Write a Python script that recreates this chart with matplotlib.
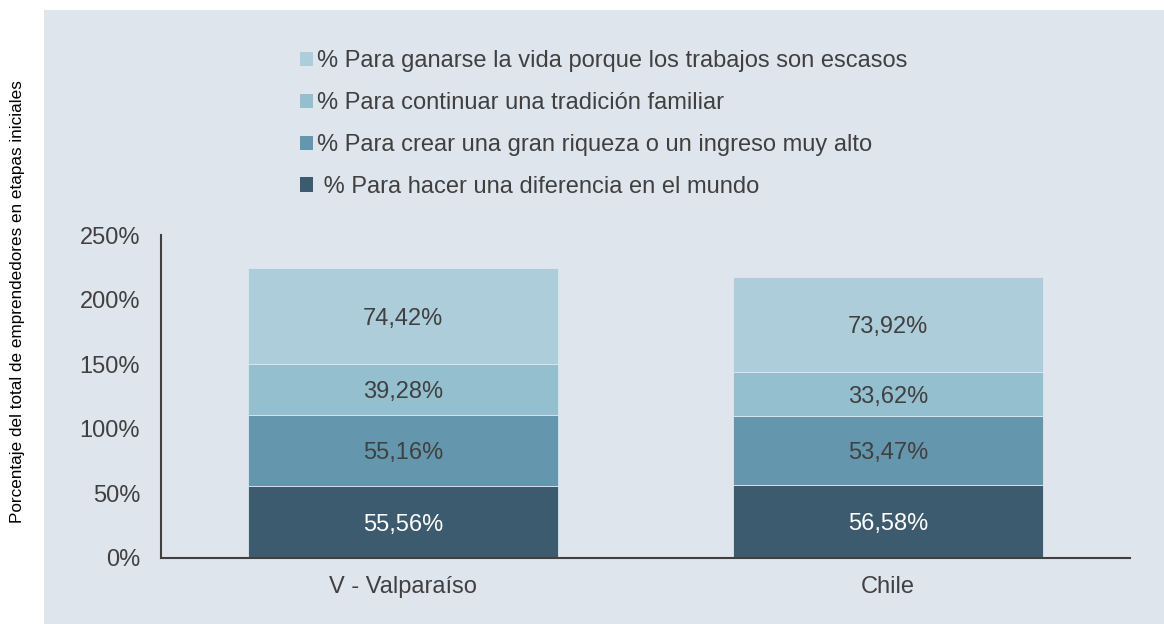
import matplotlib
matplotlib.use("Agg")
import matplotlib.pyplot as plt
from matplotlib.patches import Rectangle, Patch
from matplotlib.ticker import FuncFormatter

plt.rcParams['font.family'] = ['Liberation Sans', 'DejaVu Sans']

categories = ["V - Valparaíso", "Chile"]
series_names = [
    " % Para hacer una diferencia en el mundo",
    "% Para crear una gran riqueza o un ingreso muy alto",
    "% Para continuar una tradición familiar",
    "% Para ganarse la vida porque los trabajos son escasos",
]
diferencia = [55.56, 56.58]
riqueza = [55.16, 53.47]
tradicion = [39.28, 33.62]
ganarse = [74.42, 73.92]
series_values = [diferencia, riqueza, tradicion, ganarse]
colors = ["#3d5b6e", "#6497ae", "#94bfcf", "#aecdda"]
text_colors = ["white", "#404040", "#404040", "#404040"]
bg = "#dfe5ed"
txt = "#404040"

fig = plt.figure(figsize=(11.64, 6.24), dpi=100)
fig.patch.set_facecolor("white")
fig.add_artist(Rectangle((44 / 1164, 0), 1 - 44 / 1164, 1 - 10 / 624,
                         transform=fig.transFigure, facecolor=bg, edgecolor="none", zorder=-10))

ax = fig.add_axes([161 / 1164, 1 - 558 / 624, (1130 - 161) / 1164, (558 - 235) / 624])
ax.set_facecolor("none")

x = list(range(len(categories)))
bottoms = [0.0] * len(categories)
handles = []
for vals, name, col, tc in zip(series_values, series_names, colors, text_colors):
    ax.bar(x, vals, width=0.64, bottom=bottoms, color=col,
           edgecolor=bg, linewidth=0.6, label=name)
    for xi, v, b in zip(x, vals, bottoms):
        ax.text(xi, b + v / 2, f"{v:.2f}".replace(".", ",") + "%",
                ha="center", va="center_baseline", fontsize=17, color=tc)
    bottoms = [b + v for b, v in zip(bottoms, vals)]
    handles.append(Patch(facecolor=col, edgecolor="none", label=name))

ax.set_xlim(-0.5, 1.5)
ax.set_ylim(0, 250)
ax.set_yticks([0, 50, 100, 150, 200, 250])
ax.yaxis.set_major_formatter(FuncFormatter(lambda v, p: f"{int(v)}%"))
ax.set_xticks(x)
ax.set_xticklabels(categories)
ax.tick_params(axis="both", length=0, labelsize=17, labelcolor=txt)
ax.tick_params(axis="x", pad=13)
ax.tick_params(axis="y", pad=15)
for s in ["top", "right"]:
    ax.spines[s].set_visible(False)
for s in ["left", "bottom"]:
    ax.spines[s].set_color("#404040")
    ax.spines[s].set_linewidth(1.5)

fig.text(18 / 1164, 1 - 302 / 624, "Porcentaje del total de emprendedores en etapas iniciales",
         rotation=90, ha="center", va="center", fontsize=12.3, color="black")

leg = fig.legend(handles=handles[::-1], loc="upper left",
                 bbox_to_anchor=(291 / 1164, 1 - 41 / 624), frameon=False,
                 fontsize=17, handlelength=0.55, handleheight=0.55, handletextpad=0.15,
                 labelspacing=0.84, borderaxespad=0)
for t in leg.get_texts():
    t.set_color(txt)

fig.savefig("out.png", dpi=100)
